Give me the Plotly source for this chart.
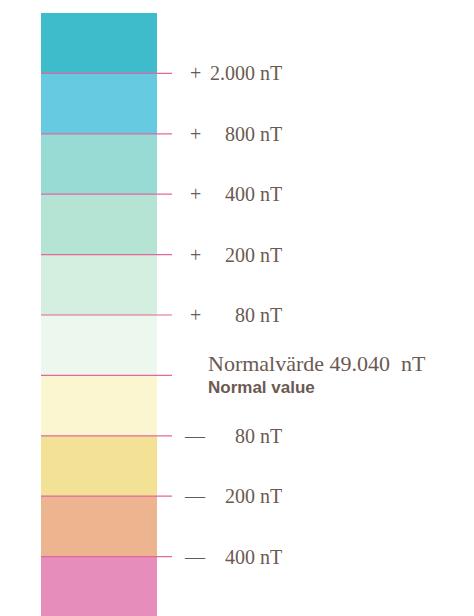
import plotly.graph_objects as go

# Bands from bottom (index 0) to top (index 9)
band_colors = ["#e68dbb", "#ecb58f", "#f3e295", "#fbf5d0", "#ecf7ee",
               "#d4efdf", "#b6e4d4", "#98dad4", "#66cae0", "#3fbccc"]
band_heights = [1] * 10
band_bases = list(range(10))

# Boundaries between bands (level 1..9), bottom to top
boundary_levels = [1, 2, 3, 4, 5, 6, 7, 8, 9]
boundary_signs = ["—", "—", "—", None, "+", "+", "+", "+", "+"]
boundary_values = ["400 nT", "200 nT", "80 nT", None, "80 nT", "200 nT", "400 nT", "800 nT", "2.000 nT"]
normal_label = "Normalvärde 49.040  nT"
normal_label_en = "Normal value"

text_color = "#6b5a52"
line_color = "#e0689f"
serif = "Liberation Serif"

fig = go.Figure()
fig.add_trace(go.Bar(
    x=[99] * len(band_heights), y=band_heights, base=band_bases,
    width=116, marker=dict(color=band_colors, line=dict(width=0)),
    hoverinfo="skip", showlegend=False,
))

for lv in boundary_levels:
    fig.add_trace(go.Scatter(
        x=[41, 172], y=[lv, lv], mode="lines",
        line=dict(color=line_color, width=1.2), hoverinfo="skip", showlegend=False,
    ))

annotations = []
for lv, s, v in zip(boundary_levels, boundary_signs, boundary_values):
    if s is None:
        annotations.append(dict(x=206, y=lv, xref="x", yref="y", text=normal_label,
                                showarrow=False, xanchor="left", yanchor="middle", yshift=12,
                                font=dict(family=serif, size=22, color=text_color)))
        annotations.append(dict(x=206, y=lv, xref="x", yref="y", text="<b>" + normal_label_en + "</b>",
                                showarrow=False, xanchor="left", yanchor="middle", yshift=-12,
                                font=dict(family="Liberation Sans", size=17, color=text_color)))
        continue
    annotations.append(dict(x=195, y=lv, xref="x", yref="y", text=s, showarrow=False,
                            xanchor="center", yanchor="middle",
                            font=dict(family=serif, size=20, color=text_color)))
    annotations.append(dict(x=284, y=lv, xref="x", yref="y", text=v, showarrow=False,
                            xanchor="right", yanchor="middle",
                            font=dict(family=serif, size=20, color=text_color)))

fig.update_layout(
    width=474, height=616,
    margin=dict(l=0, r=0, t=0, b=0),
    paper_bgcolor="white", plot_bgcolor="white",
    barmode="overlay", bargap=0,
    xaxis=dict(range=[0, 474], visible=False, fixedrange=True),
    yaxis=dict(range=[10 - 603 / 60.4, 10 + 13 / 60.4], visible=False, fixedrange=True),
    annotations=annotations,
    showlegend=False,
)

fig.write_html("out.html", config={"displayModeBar": False, "staticPlot": True},
               post_script="document.body.style.margin='0';document.body.style.overflow='hidden';")
